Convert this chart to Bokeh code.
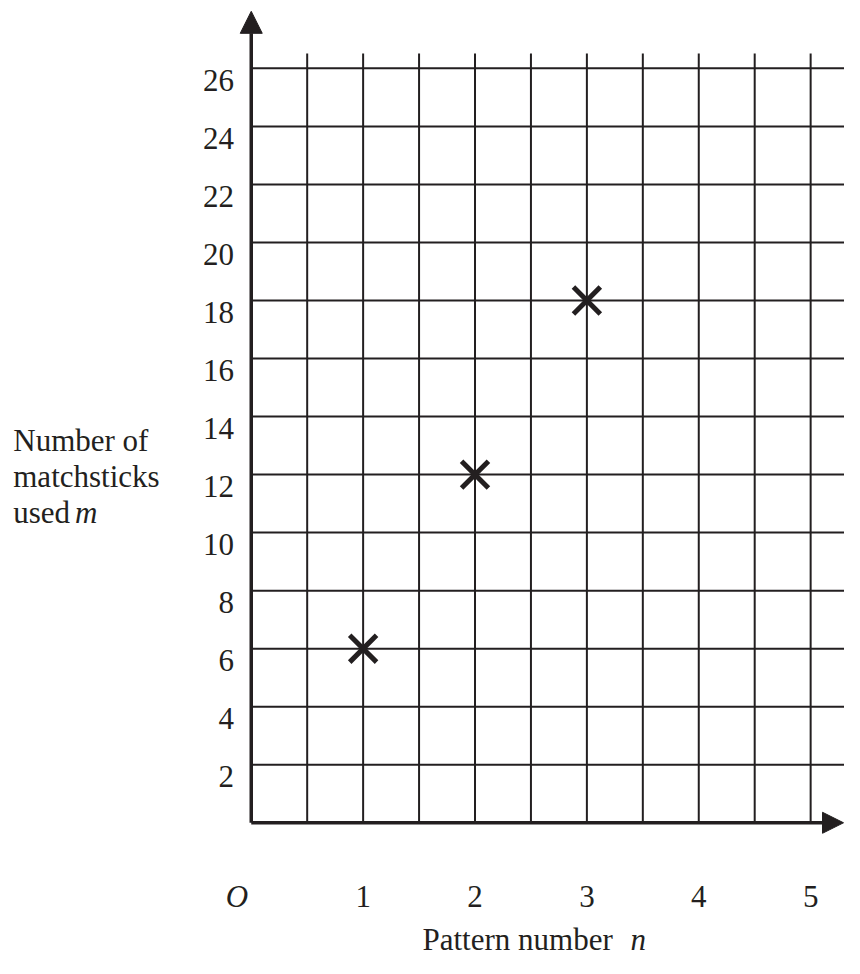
from bokeh.plotting import figure
from bokeh.models import Range1d, Arrow, NormalHead, ColumnDataSource
from bokeh.core.properties import value
from bokeh.embed import file_html
from bokeh.resources import INLINE

# ---- data ----
pattern_n = [1, 2, 3]
matchsticks_m = [6, 12, 18]
x_ticks = [1, 2, 3, 4, 5]
x_tick_labels = ["1", "2", "3", "4", "5"]
y_ticks = [2, 4, 6, 8, 10, 12, 14, 16, 18, 20, 22, 24, 26]
y_tick_labels = [str(v) for v in y_ticks]
grid_x = [0.5, 1, 1.5, 2, 2.5, 3, 3.5, 4, 4.5, 5]
grid_y = y_ticks

INK = "#231f20"
FONT = value("Liberation Serif")
FS = "31px"

W, H = 844, 958
REF_W, REF_H = 860, 974
SX, SY = 114.0, 29.5          # reference pixels per data unit
OX, OY = 255.5, 836.0          # origin in reference pixels

def dx(px):   # reference px -> data x
    return (px - OX) / SX

def dy(py):   # reference px -> data y
    return (OY - py) / SY

p = figure(width=W, height=H,
           x_range=Range1d(dx(0), dx(REF_W)), y_range=Range1d(dy(REF_H), dy(0)),
           x_axis_type=None, y_axis_type=None,
           output_backend="svg", toolbar_location=None, min_border=0)
p.grid.visible = False
p.outline_line_color = None
p.background_fill_color = "white"

grid_top = dy(54)
grid_right = dx(REF_W)

# vertical grid lines
p.segment(x0=grid_x, y0=[0] * len(grid_x), x1=grid_x, y1=[grid_top] * len(grid_x),
          line_color=INK, line_width=2)
# horizontal grid lines
p.segment(x0=[0] * len(grid_y), y0=grid_y, x1=[grid_right] * len(grid_y), y1=grid_y,
          line_color=INK, line_width=2)

# axes with arrow heads
p.add_layout(Arrow(end=NormalHead(size=22, fill_color=INK, line_color=INK, line_width=1),
                   x_start=0, y_start=0, x_end=0, y_end=dy(11),
                   line_color=INK, line_width=3.5))
p.add_layout(Arrow(end=NormalHead(size=21, fill_color=INK, line_color=INK, line_width=1),
                   x_start=0, y_start=0, x_end=dx(859), y_end=0,
                   line_color=INK, line_width=3.5))

# points
p.scatter(pattern_n, matchsticks_m, marker="x", size=38, line_width=5, line_color=INK)

# y tick labels
ysrc = ColumnDataSource(dict(x=[dx(238)] * len(y_ticks),
                             y=[v - 12 / SY for v in y_ticks],
                             t=y_tick_labels))
p.text(x="x", y="y", text="t", source=ysrc, text_font=FONT, text_font_size=FS,
       text_color=INK, text_align="right", text_baseline="alphabetic")

# x tick labels
xsrc = ColumnDataSource(dict(x=x_ticks, y=[dy(910.5)] * len(x_ticks), t=x_tick_labels))
p.text(x="x", y="y", text="t", source=xsrc, text_font=FONT, text_font_size=FS,
       text_color=INK, text_align="center", text_baseline="alphabetic")
p.text(x=[dx(241)], y=[dy(910.5)], text=["O"], text_font=FONT, text_font_size=FS,
       text_font_style="italic", text_color=INK, text_align="center",
       text_baseline="alphabetic")

# x axis title
p.text(x=[dx(430)], y=[dy(955)], text=["Pattern number"], text_font=FONT,
       text_font_size=FS, text_color=INK, text_align="left", text_baseline="alphabetic")
p.text(x=[dx(642)], y=[dy(955)], text=["n"], text_font=FONT, text_font_size=FS,
       text_font_style="italic", text_color=INK, text_align="left",
       text_baseline="alphabetic")

# y axis title
p.text(x=[dx(13)] * 3, y=[dy(447), dy(484), dy(521)],
       text=["Number of", "matchsticks", "used"], text_font=FONT, text_font_size=FS,
       text_color=INK, text_align="left", text_baseline="alphabetic")
p.text(x=[dx(76)], y=[dy(521)], text=["m"], text_font=FONT, text_font_size=FS,
       text_font_style="italic", text_color=INK, text_align="left",
       text_baseline="alphabetic")

open("out.html", "w").write(file_html(p, INLINE))
